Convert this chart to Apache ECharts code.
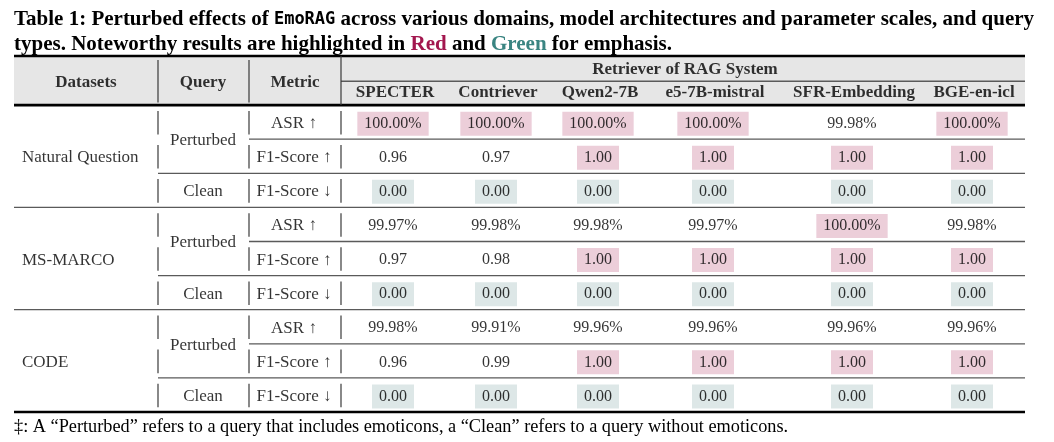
<!DOCTYPE html>
<html>
<head>
    <meta charset="utf-8" />
    <title>EmoRAG perturbed effects</title>
    <style>
        html, body {
            margin: 0;
            padding: 0;
            background: #fff;
        }

        #main {
            width: 1054px;
            height: 442px;
        }
    </style>
    <script src="https://cdn.jsdelivr.net/npm/echarts@6/dist/echarts.min.js"></script>
</head>
<body>
    <div id="main"></div>
    <script>
        // ---- table content ----
        var datasets = ['Natural Question', 'MS-MARCO', 'CODE'];
        var queryTypes = ['Perturbed', 'Clean'];
        var metrics = ['ASR \u2191', 'F1-Score \u2191', 'F1-Score \u2193'];
        var leftHeaders = ['Datasets', 'Query', 'Metric'];
        var groupHeader = 'Retriever of RAG System';
        var retrievers = ['SPECTER', 'Contriever', 'Qwen2-7B', 'e5-7B-mistral', 'SFR-Embedding', 'BGE-en-icl'];

        var nqASR = [100.00, 100.00, 100.00, 100.00, 99.98, 100.00];
        var nqF1Perturbed = [0.96, 0.97, 1.00, 1.00, 1.00, 1.00];
        var nqF1Clean = [0.00, 0.00, 0.00, 0.00, 0.00, 0.00];

        var msASR = [99.97, 99.98, 99.98, 99.97, 100.00, 99.98];
        var msF1Perturbed = [0.97, 0.98, 1.00, 1.00, 1.00, 1.00];
        var msF1Clean = [0.00, 0.00, 0.00, 0.00, 0.00, 0.00];

        var codeASR = [99.98, 99.91, 99.96, 99.96, 99.96, 99.96];
        var codeF1Perturbed = [0.96, 0.99, 1.00, 1.00, 1.00, 1.00];
        var codeF1Clean = [0.00, 0.00, 0.00, 0.00, 0.00, 0.00];

        var footnote = '\u2021: A \u201cPerturbed\u201d refers to a query that includes emoticons, a \u201cClean\u201d refers to a query without emoticons.';

        // ---- layout (x in table pixels, y in row units, header above 0) ----
        var TABLE_W = 1011;
        var HEAD_TOP = -1.44;
        var ROWS = 9;
        var labelEdges = [144, 235, 327];
        var datasetLeft = 8;
        var queryCenter = 189;
        var metricCenter = 280;
        var colCenters = [379, 482, 584, 699, 838, 958];

        var SERIF = 'Liberation Serif';
        var PINK = '#e7c2d0';
        var GREEN = '#d4e1e1';
        var INK = '#000';

        var groups = [
            [nqASR, nqF1Perturbed, nqF1Clean],
            [msASR, msF1Perturbed, msF1Clean],
            [codeASR, codeF1Perturbed, codeF1Clean]
        ];

        // value cells
        var cellData = [];
        groups.forEach(function (rows, g) {
            rows.forEach(function (vals, m) {
                var r = g * 3 + m;
                vals.forEach(function (v, c) {
                    var txt = m === 0 ? v.toFixed(2) + '%' : v.toFixed(2);
                    var bg = null;
                    if (m === 0 && v === 100) bg = PINK;
                    if (m === 1 && v === 1) bg = PINK;
                    if (m === 2 && v === 0) bg = GREEN;
                    var item = { value: [colCenters[c], r + 0.5, txt] };
                    if (bg) item.label = { backgroundColor: bg };
                    cellData.push(item);
                });
            });
        });

        // left side labels
        var leftData = [];
        datasets.forEach(function (d, g) {
            leftData.push({ value: [datasetLeft, g * 3 + 1.5, d], label: { align: 'left' } });
            leftData.push({ value: [queryCenter, g * 3 + 1.0, queryTypes[0]] });
            leftData.push({ value: [queryCenter, g * 3 + 2.5, queryTypes[1]] });
            metrics.forEach(function (m, k) {
                leftData.push({ value: [metricCenter, g * 3 + k + 0.5, m] });
            });
        });

        // header labels
        var headData = [
            { value: [labelEdges[0] / 2, -0.7, leftHeaders[0]] },
            { value: [queryCenter, -0.7, leftHeaders[1]] },
            { value: [metricCenter + 1, -0.7, leftHeaders[2]] },
            { value: [(labelEdges[2] + TABLE_W) / 2 + 2, -1.08, groupHeader] }
        ];
        retrievers.forEach(function (r, c) {
            headData.push({ value: [colCenters[c] + 2, -0.4, r] });
        });

        // horizontal rules: [x1, x2, y, width]
        var rules = [[0, TABLE_W, HEAD_TOP, 2.6], [0, TABLE_W, 0, 2.6], [0, TABLE_W, ROWS, 2.6],
                     [labelEdges[2], TABLE_W, -0.7, 1.3]];
        for (var g = 0; g < 3; g++) {
            rules.push([labelEdges[1], TABLE_W, g * 3 + 1, 1.3]);
            rules.push([labelEdges[0], TABLE_W, g * 3 + 2, 1.3]);
            if (g > 0) rules.push([0, TABLE_W, g * 3, 1.3]);
        }

        // vertical separators: [x, y1, y2]
        var bars = [[labelEdges[0], -1.32, -0.08], [labelEdges[1], -1.32, -0.08], [labelEdges[2], HEAD_TOP, 0]];
        for (var r = 0; r < ROWS; r++) {
            labelEdges.forEach(function (x) {
                bars.push([x, r + 0.17, r + 0.86]);
            });
        }

        function renderRule(params, api) {
            var a = api.coord([api.value(0), api.value(2)]);
            var b = api.coord([api.value(1), api.value(2)]);
            var w = api.value(3);
            return {
                type: 'line',
                shape: { x1: a[0], y1: a[1], x2: b[0], y2: b[1] },
                style: { stroke: w > 2 ? '#000' : '#5a5a5a', lineWidth: w }
            };
        }

        function renderBar(params, api) {
            var a = api.coord([api.value(0), api.value(1)]);
            var b = api.coord([api.value(0), api.value(2)]);
            return {
                type: 'line',
                shape: { x1: a[0], y1: a[1], x2: b[0], y2: b[1] },
                style: { stroke: '#3a3a3a', lineWidth: 1.2 }
            };
        }

        function renderHeadBg(params, api) {
            var a = api.coord([0, HEAD_TOP]);
            var b = api.coord([TABLE_W, 0]);
            return {
                type: 'rect',
                shape: { x: a[0], y: a[1], width: b[0] - a[0], height: b[1] - a[1] },
                style: { fill: '#e6e6e6' }
            };
        }

        function textSeries(name, data, font, z) {
            return {
                name: name,
                type: 'scatter',
                symbolSize: 1,
                itemStyle: { color: 'rgba(0,0,0,0)' },
                z: z,
                silent: true,
                data: data,
                label: {
                    show: true,
                    position: 'inside',
                    offset: [0, 1.5],
                    formatter: function (p) { return p.value[2]; },
                    color: INK,
                    fontFamily: SERIF,
                    fontSize: font.size,
                    fontWeight: font.weight,
                    lineHeight: 16,
                    padding: font.padding
                }
            };
        }

        var myChart = echarts.init(document.getElementById('main'));
        var option = {
            animation: false,
            backgroundColor: '#fff',
            title: [
                {
                    left: 14,
                    top: 7,
                    padding: 0,
                    text: '{b|Table 1: Perturbed effects of }{m|EmoRAG}{b| across various domains, model architectures and parameter scales, and query}\n' +
                          '{b|types. Noteworthy results are highlighted in }{r|Red}{b| and }{g|Green}{b| for emphasis.}',
                    textStyle: {
                        rich: {
                            b: { fontFamily: SERIF, fontWeight: 'bold', fontSize: 21, color: '#000', lineHeight: 25 },
                            m: { fontFamily: 'DejaVu Sans Mono', fontSize: 17, color: '#000', lineHeight: 25 },
                            r: { fontFamily: SERIF, fontWeight: 'bold', fontSize: 21, color: '#a3174f', lineHeight: 25 },
                            g: { fontFamily: SERIF, fontWeight: 'bold', fontSize: 21, color: '#3a8582', lineHeight: 25 }
                        }
                    }
                },
                {
                    left: 14,
                    top: 418,
                    padding: 0,
                    text: footnote,
                    textStyle: { fontFamily: SERIF, fontWeight: 'normal', fontSize: 18.3, color: INK }
                }
            ],
            grid: { left: 14, right: 29, top: 56, bottom: 30 },
            xAxis: { type: 'value', min: 0, max: TABLE_W, show: false },
            yAxis: { type: 'value', min: HEAD_TOP, max: ROWS, inverse: true, show: false },
            series: [
                { type: 'custom', renderItem: renderHeadBg, data: [[0]], z: 1, silent: true },
                { type: 'custom', renderItem: renderRule, data: rules, z: 3, silent: true },
                { type: 'custom', renderItem: renderBar, data: bars, z: 3, silent: true },
                textSeries('header', headData, { size: 17, weight: 'bold', padding: 0 }, 5),
                textSeries('labels', leftData, { size: 17, weight: 'normal', padding: 0 }, 5),
                textSeries('cells', cellData, { size: 16, weight: 'normal', padding: [4, 7] }, 5)
            ]
        };
        myChart.setOption(option);
    </script>
</body>
</html>
